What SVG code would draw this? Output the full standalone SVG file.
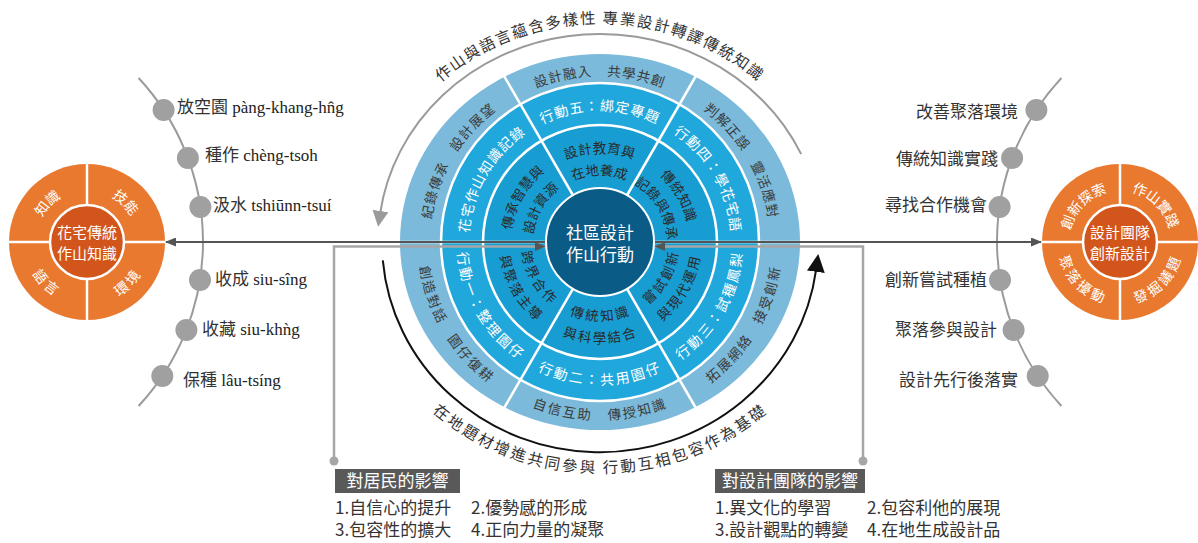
<svg xmlns="http://www.w3.org/2000/svg" width="1198" height="543" viewBox="0 0 1198 543">
<style>
text{font-family:"Noto Sans CJK TC","Noto Sans CJK SC",sans-serif;}
.ro{font-family:"Liberation Serif","Times New Roman",serif;font-size:17px;fill:#222;}
.lab{font-size:17px;fill:#333;}
.ot{font-size:13.5px;fill:#3a3a3a;letter-spacing:1.5px;dominant-baseline:central;}
.mt{font-size:14px;fill:#fff;letter-spacing:1.5px;dominant-baseline:central;}
.it{font-size:13.5px;fill:#2a2a2a;letter-spacing:1.2px;dominant-baseline:central;}
.arc{font-size:15.5px;fill:#333;letter-spacing:2px;dominant-baseline:central;}
.ct{font-size:17px;fill:#fff;dominant-baseline:central;}
.oq{font-size:14px;fill:#fff;letter-spacing:1.5px;dominant-baseline:central;}
.oc{font-size:15px;fill:#fff;dominant-baseline:central;}
.box{fill:#595959;}
.bt{font-size:17px;fill:#fff;}
.lt{font-size:17px;fill:#333;}
.dot{fill:#a0a0a0;}
.wl{stroke:#fff;stroke-width:2.5;fill:none;}
.curve{stroke:#9a9a9a;stroke-width:2;fill:none;}
</style>
<defs>
<marker id="ah" markerUnits="userSpaceOnUse" markerWidth="11" markerHeight="9" refX="10" refY="4.5" orient="auto"><path d="M0,0 L11,4.5 L0,9 z" fill="#555"/></marker>
<marker id="gh" markerUnits="userSpaceOnUse" markerWidth="16" markerHeight="16" refX="2" refY="8" orient="auto"><path d="M0,0 L16,8 L0,16 z" fill="#9a9a9a"/></marker>
<marker id="kh" markerUnits="userSpaceOnUse" markerWidth="18" markerHeight="18" refX="2" refY="9" orient="auto"><path d="M0,0 L18,9 L0,18 z" fill="#111"/></marker>
<path id="o-ul" d="M434.6,300.8 A176,172 0 0 1 569.4,72.6"/>
<path id="o-t" d="M465.2,131.4 A176,172 0 0 1 734.8,131.4"/>
<path id="o-ur" d="M630.6,72.6 A176,172 0 0 1 765.4,300.8"/>
<path id="o-ll" d="M434.6,183.2 A176,172 0 0 0 569.4,411.4"/>
<path id="o-b" d="M465.2,352.6 A176,172 0 0 0 734.8,352.6"/>
<path id="o-lr" d="M630.6,411.4 A176,172 0 0 0 765.4,183.2"/>
<path id="m-ul" d="M471.3,288.9 A137,137 0 0 1 576.2,107.1"/>
<path id="m-t" d="M495.1,153.9 A137,137 0 0 1 704.9,153.9"/>
<path id="m-ur" d="M623.8,107.1 A137,137 0 0 1 728.7,288.9"/>
<path id="m-ll" d="M471.3,195.1 A137,137 0 0 0 576.2,376.9"/>
<path id="m-b" d="M495.1,330.1 A137,137 0 0 0 704.9,330.1"/>
<path id="m-lr" d="M623.8,376.9 A137,137 0 0 0 728.7,195.1"/>
<path id="a-ul" d="M510.7,274.5 A95,95 0 0 1 583.5,148.4"/>
<path id="a-t" d="M527.2,180.9 A95,95 0 0 1 672.8,180.9"/>
<path id="a-ur" d="M616.5,148.4 A95,95 0 0 1 689.3,274.5"/>
<path id="a-ll" d="M510.7,209.5 A95,95 0 0 0 583.5,335.6"/>
<path id="a-b" d="M527.2,303.1 A95,95 0 0 0 672.8,303.1"/>
<path id="a-lr" d="M616.5,335.6 A95,95 0 0 0 689.3,209.5"/>
<path id="b-ul" d="M531.4,267.0 A73,73 0 0 1 587.3,170.1"/>
<path id="b-t" d="M544.1,195.1 A73,73 0 0 1 655.9,195.1"/>
<path id="b-ur" d="M612.7,170.1 A73,73 0 0 1 668.6,267.0"/>
<path id="b-ll" d="M531.4,217.0 A73,73 0 0 0 587.3,313.9"/>
<path id="b-b" d="M544.1,288.9 A73,73 0 0 0 655.9,288.9"/>
<path id="b-lr" d="M612.7,313.9 A73,73 0 0 0 668.6,217.0"/>
<path id="top-arc-txt" d="M363.6,202.9 A240,225 0 0 1 836.4,202.9"/>
<path id="bot-arc-txt" d="M363.6,280.9 A240,224 0 0 0 836.4,280.9"/>
<path id="lq-ul" d="M30,242 A57,57 0 0 1 87,185"/>
<path id="lq-ur" d="M87,185 A57,57 0 0 1 144,242"/>
<path id="lq-ll" d="M30,242 A57,57 0 0 0 87,299"/>
<path id="lq-lr" d="M87,299 A57,57 0 0 0 144,242"/>
<path id="rq-ul" d="M1063,242 A57,57 0 0 1 1120,185"/>
<path id="rq-ur" d="M1120,185 A57,57 0 0 1 1177,242"/>
<path id="rq-ll" d="M1063,242 A57,57 0 0 0 1120,299"/>
<path id="rq-lr" d="M1120,299 A57,57 0 0 0 1177,242"/>
</defs>

<g id="action-wheel">
<ellipse cx="600" cy="242" rx="200" ry="188" fill="#7cbadb"/>
<circle cx="600" cy="242" r="159" fill="#20a8dc" stroke="#fff" stroke-width="2.5"/>
<circle cx="600" cy="242" r="117" fill="#189dd2" stroke="#fff" stroke-width="2.5"/>
<line x1="600" y1="242" x2="702.5" y2="64.5" class="wl"/>
<line x1="600" y1="242" x2="497.5" y2="64.5" class="wl"/>
<line x1="600" y1="242" x2="497.5" y2="419.5" class="wl"/>
<line x1="600" y1="242" x2="702.5" y2="419.5" class="wl"/>
<line x1="395" y1="242" x2="805" y2="242" class="wl" stroke-width="4"/>
</g>

<g id="ring-outer-labels">
<text class="ot" text-anchor="middle"><textPath href="#o-ul" startOffset="50%">紀錄傳承　設計展望</textPath></text>
<text class="ot" text-anchor="middle"><textPath href="#o-t" startOffset="50%">設計融入　共學共創</textPath></text>
<text class="ot" text-anchor="middle"><textPath href="#o-ur" startOffset="50%">判解正誤　靈活應對</textPath></text>
<text class="ot" text-anchor="middle"><textPath href="#o-ll" startOffset="50%">創造對話　園仔復耕</textPath></text>
<text class="ot" text-anchor="middle"><textPath href="#o-b" startOffset="50%">自信互助　傳授知識</textPath></text>
<text class="ot" text-anchor="middle"><textPath href="#o-lr" startOffset="50%">拓展網絡　接受創新</textPath></text>
</g>

<g id="ring-action-labels">
<text class="mt" text-anchor="middle"><textPath href="#m-ul" startOffset="50%">花宅作山知識記錄</textPath></text>
<text class="mt" text-anchor="middle"><textPath href="#m-t" startOffset="50%">行動五：綁定專題</textPath></text>
<text class="mt" text-anchor="middle"><textPath href="#m-ur" startOffset="50%">行動四：學花宅語</textPath></text>
<text class="mt" text-anchor="middle"><textPath href="#m-ll" startOffset="50%">行動一：整理園仔</textPath></text>
<text class="mt" text-anchor="middle"><textPath href="#m-b" startOffset="50%">行動二：共用園仔</textPath></text>
<text class="mt" text-anchor="middle"><textPath href="#m-lr" startOffset="50%">行動三：試種鳳梨</textPath></text>
</g>

<g id="ring-inner-labels">
<text class="it" text-anchor="middle"><textPath href="#a-ul" startOffset="50%">傳承智慧與</textPath></text>
<text class="it" text-anchor="middle"><textPath href="#b-ul" startOffset="50%">設計資源</textPath></text>
<text class="it" text-anchor="middle"><textPath href="#a-t" startOffset="50%">設計教育與</textPath></text>
<text class="it" text-anchor="middle"><textPath href="#b-t" startOffset="50%">在地養成</textPath></text>
<text class="it" text-anchor="middle"><textPath href="#a-ur" startOffset="50%">傳統知識</textPath></text>
<text class="it" text-anchor="middle"><textPath href="#b-ur" startOffset="50%">記錄與傳承</textPath></text>
<text class="it" text-anchor="middle"><textPath href="#b-ll" startOffset="50%">跨界合作</textPath></text>
<text class="it" text-anchor="middle"><textPath href="#a-ll" startOffset="50%">與聚落主導</textPath></text>
<text class="it" text-anchor="middle"><textPath href="#b-b" startOffset="50%">傳統知識</textPath></text>
<text class="it" text-anchor="middle"><textPath href="#a-b" startOffset="50%">與科學結合</textPath></text>
<text class="it" text-anchor="middle"><textPath href="#b-lr" startOffset="50%">嘗試創新</textPath></text>
<text class="it" text-anchor="middle"><textPath href="#a-lr" startOffset="50%">與現代運用</textPath></text>
</g>

<g id="left-list">
<path d="M138.6,78 A241,241 0 0 1 138.6,406" class="curve"/>
<circle cx="163.6" cy="110" r="11" class="dot"/>
<circle cx="187.9" cy="158" r="11" class="dot"/>
<circle cx="200.4" cy="207" r="11" class="dot"/>
<circle cx="200" cy="280" r="11" class="dot"/>
<circle cx="186.4" cy="330" r="11" class="dot"/>
<circle cx="162.3" cy="376" r="11" class="dot"/>
<text x="177" y="113" class="lab">放空園<tspan class="ro" font-family="Liberation Serif, serif"> pàng-khang-hn̂g</tspan></text>
<text x="205" y="161" class="lab">種作<tspan class="ro" font-family="Liberation Serif, serif"> chèng-tsoh</tspan></text>
<text x="213" y="211" class="lab">汲水<tspan class="ro" font-family="Liberation Serif, serif"> tshiūnn-tsuí</tspan></text>
<text x="215" y="285" class="lab">收成<tspan class="ro" font-family="Liberation Serif, serif"> siu-sîng</tspan></text>
<text x="202" y="335" class="lab">收藏<tspan class="ro" font-family="Liberation Serif, serif"> siu-khǹg</tspan></text>
<text x="183" y="386" class="lab">保種<tspan class="ro" font-family="Liberation Serif, serif"> lâu-tsíng</tspan></text>
</g>

<g id="right-list">
<path d="M1061.4,78 A241,241 0 0 0 1061.4,406" class="curve"/>
<circle cx="1036.4" cy="110" r="11" class="dot"/>
<circle cx="1012.1" cy="158" r="11" class="dot"/>
<circle cx="999.6" cy="207" r="11" class="dot"/>
<circle cx="1000" cy="280" r="11" class="dot"/>
<circle cx="1013.6" cy="330" r="11" class="dot"/>
<circle cx="1037.7" cy="376" r="11" class="dot"/>
<text x="1018" y="118" class="lab" text-anchor="end">改善聚落環境</text>
<text x="998" y="165" class="lab" text-anchor="end">傳統知識實踐</text>
<text x="987" y="211" class="lab" text-anchor="end">尋找合作機會</text>
<text x="987" y="286" class="lab" text-anchor="end">創新嘗試種植</text>
<text x="997" y="336" class="lab" text-anchor="end">聚落參與設計</text>
<text x="1018" y="386" class="lab" text-anchor="end">設計先行後落實</text>
</g>

<g id="connectors">
<path d="M801.2,154.1 A222,208 0 0 0 380.2,213.0" stroke="#9a9a9a" stroke-width="2" fill="none" marker-end="url(#gh)"/>
<path d="M382.8,260.3 A218,210 0 0 0 816.1,269.8" stroke="#111" stroke-width="2" fill="none" marker-end="url(#kh)"/>
<line x1="547" y1="242" x2="166" y2="242" stroke="#555" stroke-width="2" marker-end="url(#ah)"/>
<line x1="653" y1="242" x2="1041" y2="242" stroke="#555" stroke-width="2" marker-end="url(#ah)"/>
<polyline points="334,458 334,246.5 545,246.5" stroke="#a6a6a6" stroke-width="2.5" fill="none" marker-end="url(#ah)"/>
<polyline points="863,458 863,246.5 655,246.5" stroke="#a6a6a6" stroke-width="2.5" fill="none" marker-end="url(#ah)"/>
<circle cx="334" cy="461" r="4.5" fill="#a6a6a6"/>
<circle cx="863" cy="461" r="4.5" fill="#a6a6a6"/>
</g>

<g id="arc-labels">
<text class="arc" text-anchor="middle"><textPath href="#top-arc-txt" startOffset="50%">作山與語言蘊含多樣性 專業設計轉譯傳統知識</textPath></text>
<text class="arc" text-anchor="middle"><textPath href="#bot-arc-txt" startOffset="50%">在地題材增進共同參與 行動互相包容作為基礎</textPath></text>
</g>

<g id="center-hub">
<circle cx="600" cy="242" r="54" fill="#0a5b86" stroke="#fff" stroke-width="2"/>
<text x="600" y="231" class="ct" text-anchor="middle">社區設計</text>
<text x="600" y="253" class="ct" text-anchor="middle">作山行動</text>
</g>

<g id="node-knowledge">
<circle cx="87" cy="242" r="78" fill="#e8792f"/>
<line x1="87" y1="164" x2="87" y2="320" class="wl"/>
<line x1="9" y1="242" x2="165" y2="242" class="wl"/>
<circle cx="87" cy="242" r="37" fill="#d2561c" stroke="#fff" stroke-width="2.5"/>
<text x="87" y="231" class="oc" text-anchor="middle">花宅傳統</text>
<text x="87" y="252" class="oc" text-anchor="middle">作山知識</text>
<text class="oq" text-anchor="middle"><textPath href="#lq-ul" startOffset="50%">知識</textPath></text>
<text class="oq" text-anchor="middle"><textPath href="#lq-ur" startOffset="50%">技能</textPath></text>
<text class="oq" text-anchor="middle"><textPath href="#lq-ll" startOffset="50%">語言</textPath></text>
<text class="oq" text-anchor="middle"><textPath href="#lq-lr" startOffset="50%">環境</textPath></text>
</g>

<g id="node-team">
<circle cx="1120" cy="242" r="78" fill="#e8792f"/>
<line x1="1120" y1="164" x2="1120" y2="320" class="wl"/>
<line x1="1042" y1="242" x2="1198" y2="242" class="wl"/>
<circle cx="1120" cy="242" r="37" fill="#d2561c" stroke="#fff" stroke-width="2.5"/>
<text x="1120" y="231" class="oc" text-anchor="middle">設計團隊</text>
<text x="1120" y="252" class="oc" text-anchor="middle">創新設計</text>
<text class="oq" text-anchor="middle"><textPath href="#rq-ul" startOffset="50%">創新探索</textPath></text>
<text class="oq" text-anchor="middle"><textPath href="#rq-ur" startOffset="50%">作山實踐</textPath></text>
<text class="oq" text-anchor="middle"><textPath href="#rq-ll" startOffset="50%">聚落擾動</textPath></text>
<text class="oq" text-anchor="middle"><textPath href="#rq-lr" startOffset="50%">發掘議題</textPath></text>
</g>

<g id="box-residents">
<rect x="335" y="469" width="125" height="24" class="box"/>
<text x="397.5" y="487" text-anchor="middle" class="bt">對居民的影響</text>
<text x="335" y="514" class="lt">1.自信心的提升</text>
<text x="471" y="514" class="lt">2.優勢感的形成</text>
<text x="335" y="536" class="lt">3.包容性的擴大</text>
<text x="471" y="536" class="lt">4.正向力量的凝聚</text>
</g>

<g id="box-team">
<rect x="715" y="469" width="150" height="24" class="box"/>
<text x="790" y="487" text-anchor="middle" class="bt">對設計團隊的影響</text>
<text x="715" y="514" class="lt">1.異文化的學習</text>
<text x="867" y="514" class="lt">2.包容利他的展現</text>
<text x="715" y="536" class="lt">3.設計觀點的轉變</text>
<text x="867" y="536" class="lt">4.在地生成設計品</text>
</g>
</svg>
